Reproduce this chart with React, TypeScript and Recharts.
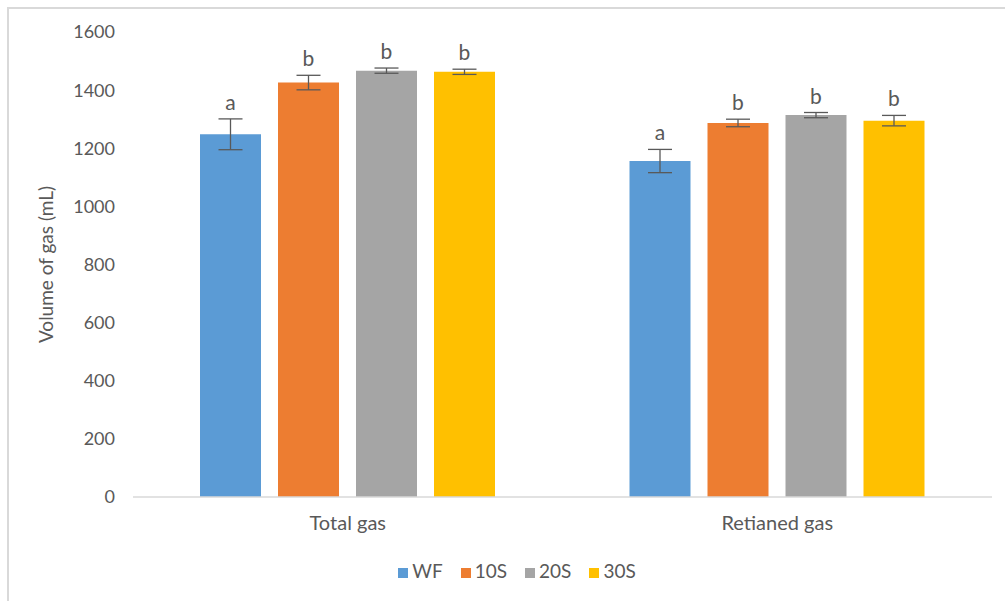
import React from 'react';
import { BarChart, Bar, XAxis, YAxis, ErrorBar, Legend, LabelList } from 'recharts';

// gas volume per treatment, mean ± SD, with significance letters
const categories = ['Total gas', 'Retianed gas'];
const treatments = ['WF', '10S', '20S', '30S'];
const colors = ['#5B9BD5', '#ED7D31', '#A5A5A5', '#FFC000'];

const wfValues = [1248, 1156];
const s10Values = [1426, 1287];
const s20Values = [1467, 1314];
const s30Values = [1463, 1295];

const wfErr = [53, 40];
const s10Err = [25, 13];
const s20Err = [9, 9];
const s30Err = [9, 18];

const wfLetters = ['a', 'a'];
const s10Letters = ['b', 'b'];
const s20Letters = ['b', 'b'];
const s30Letters = ['b', 'b'];

const yTicks = [0, 200, 400, 600, 800, 1000, 1200, 1400, 1600];

const values = [wfValues, s10Values, s20Values, s30Values];
const errors = [wfErr, s10Err, s20Err, s30Err];
const letters = [wfLetters, s10Letters, s20Letters, s30Letters];

const data = categories.map((name, i) => {
  const row: any = { name };
  treatments.forEach((t, k) => {
    row[t] = values[k][i];
    row[t + '_err'] = errors[k][i];
  });
  return row;
});

const FONT = 'Lato, "Open Sans", sans-serif';
const TEXT = '#595959';

// letter sits just above the error bar cap
const letterLabel = (k: number) => (p: any) => {
  const { x, y, width, height, index } = p;
  const v = values[k][index];
  const errPx = (errors[k][index] * height) / v;
  return (
    <text x={x + width / 2} y={y - errPx - 9} textAnchor="middle"
      fontFamily={FONT} fontSize={21} fill={TEXT}>
      {letters[k][index]}
    </text>
  );
};

export default function App() {
  return (
    <div style={{ position: 'absolute', left: 0, top: 0, width: 1005, height: 601, background: '#fff', overflow: 'hidden' }}>
      <div style={{ position: 'absolute', left: 7, top: 7, width: 1100, height: 700,
        borderLeft: '2px solid #D9D9D9', borderTop: '2px solid #D9D9D9' }} />
      <BarChart width={1005} height={601} data={data}
        margin={{ top: 32, right: 13, bottom: 0, left: 0 }}
        barCategoryGap={67} barGap={17}>
        <XAxis dataKey="name" height={104} tickLine={false}
          axisLine={{ stroke: '#D9D9D9', strokeWidth: 1.5 }} tickMargin={13}
          tick={{ fontFamily: FONT, fontSize: 20, fill: TEXT }} />
        <YAxis width={133} domain={[0, 1600]} ticks={yTicks} axisLine={false} tickLine={false}
          tickMargin={12} tick={{ fontFamily: FONT, fontSize: 18, fill: TEXT }}
          label={{ value: 'Volume of gas (mL)', angle: -90, position: 'center', dx: -20,
            style: { fontFamily: FONT, fontSize: 19, fill: TEXT } }} />
        <Legend verticalAlign="middle" align="center" layout="horizontal" iconType="square" iconSize={10}
          itemSorter={(item: any) => treatments.indexOf(item.value)}
          wrapperStyle={{ top: 559, left: 326, width: 400, fontFamily: FONT, fontSize: 19 }}
          formatter={(v: string) => <span style={{ color: TEXT, marginRight: 8 }}>{v}</span>} />
        {treatments.map((t, k) => (
          <Bar key={t} dataKey={t} name={t} fill={colors[k]} isAnimationActive={false}>
            <ErrorBar dataKey={t + '_err'} width={12} stroke="#595959" strokeWidth={1.3} />
            <LabelList dataKey={t} content={letterLabel(k)} />
          </Bar>
        ))}
      </BarChart>
    </div>
  );
}
